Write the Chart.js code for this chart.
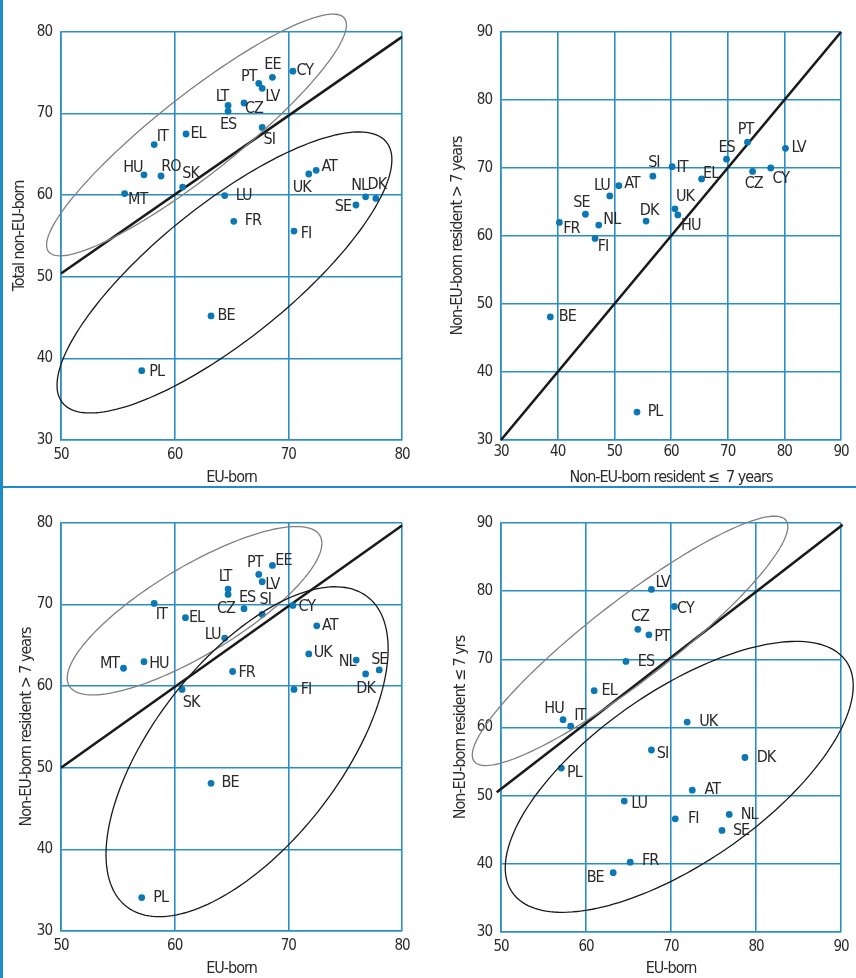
<!DOCTYPE html>
<html>
<head>
<meta charset="utf-8">
<script src="https://cdn.jsdelivr.net/npm/chart.js@4.4.1/dist/chart.umd.min.js"></script>
<style>
  html, body { margin: 0; padding: 0; background: #fff; }
  #wrap { position: relative; width: 856px; height: 978px; overflow: hidden; }
  #wrap canvas { position: absolute; }
  .bar { position: absolute; left: 0; top: 0; width: 3px; height: 978px; background: #1d8cc7; }
  .rule { position: absolute; left: 0; top: 486px; width: 856px; height: 2px; background: #1d8cc7; }
</style>
</head>
<body>
<div id="wrap">
  <canvas id="c1" width="428" height="487" style="left:0;top:0"></canvas>
  <canvas id="c2" width="428" height="487" style="left:428px;top:0"></canvas>
  <canvas id="c3" width="428" height="491" style="left:0;top:487px"></canvas>
  <canvas id="c4" width="428" height="491" style="left:428px;top:487px"></canvas>
  <div class="bar"></div>
  <div class="rule"></div>
</div>
<script>
// ---- panel 1: EU-born vs total non-EU-born
const codes1 = ['CY','EE','PT','LV','CZ','LT','ES','SI','EL','IT','HU','RO','SK','MT','LU','FR','FI','UK','AT','SE','NL','DK','BE','PL'];
const x1 = [70.4,68.6,67.4,67.7,66.1,64.7,64.7,67.7,61.0,58.2,57.3,58.8,60.7,55.6,64.4,65.2,70.5,71.8,72.45,75.95,76.8,77.7,63.2,57.1];
const y1 = [75.2,74.45,73.7,73.1,71.3,71.0,70.3,68.3,67.5,66.2,62.5,62.35,61.0,60.2,59.95,56.8,55.6,62.6,63.05,58.8,59.8,59.6,45.2,38.5];
const diag1 = [[50, 50.4], [80, 79.4]];

// ---- panel 2: non-EU-born <= 7 years vs > 7 years
const codes2 = ['PT','ES','LV','CY','CZ','EL','IT','SI','AT','LU','SE','NL','FR','FI','DK','UK','HU','BE','PL'];
const x2 = [73.5,69.8,80.2,77.6,74.4,65.4,60.2,56.8,50.8,49.2,44.9,47.25,40.3,46.6,55.6,60.7,61.2,38.7,54.0];
const y2 = [73.8,71.3,72.9,70.0,69.5,68.4,70.2,68.8,67.4,65.9,63.2,61.6,62.0,59.65,62.2,64.0,63.1,48.1,34.1];
const diag2 = [[30, 30], [90, 90]];

// ---- panel 3: EU-born vs non-EU-born > 7 years
const codes3 = ['EE','PT','LV','LT','ES','CZ','SI','CY','IT','EL','LU','AT','UK','NL','SE','DK','MT','HU','FR','FI','SK','BE','PL'];
const x3 = [68.6,67.4,67.7,64.7,64.7,66.1,67.7,70.4,58.2,60.95,64.4,72.5,71.8,75.97,78.0,76.8,55.5,57.3,65.1,70.5,60.65,63.2,57.1];
const y3 = [74.8,73.7,72.8,71.9,71.25,69.5,68.8,69.9,70.15,68.4,65.9,67.4,63.95,63.2,62.0,61.5,62.2,63.0,61.8,59.6,59.6,48.1,34.1];
const diag3 = [[50, 50], [80, 79.7]];

// ---- panel 4: EU-born vs non-EU-born <= 7 yrs
const codes4 = ['LV','CY','CZ','PT','ES','EL','HU','IT','UK','SI','DK','PL','AT','LU','FI','NL','SE','FR','BE'];
const x4 = [67.7,70.4,66.1,67.4,64.7,60.96,57.3,58.2,71.9,67.7,78.7,57.1,72.5,64.5,70.5,76.85,76.0,65.2,63.2];
const y4 = [80.25,77.75,74.4,73.6,69.7,65.4,61.15,60.2,60.8,56.7,55.6,54.05,50.8,49.2,46.6,47.25,44.9,40.25,38.7];
const diag4 = [[49.5, 50.5], [90.2, 89.75]];

// cluster ellipses: centre + two conjugate half-axes, all in data units
const ellipses1 = [
  { c: [61.92, 67.38], u: [13.19, 13.48], v: [0, -6.13], grey: true },
  { c: [64.38, 50.53], u: [14.73, 13.82], v: [0, -10.27], grey: false }
];
const ellipses3 = [
  { c: [61.75, 69.25], u: [11.2, 8.25], v: [0, -6.19], grey: true },
  { c: [66.37, 51.97], u: [12.41, 12.6], v: [0, -15.81], grey: false }
];
const ellipses4 = [
  { c: [65.18, 72.71], u: [18.56, 16.75], v: [0, -7.35], grey: true },
  { c: [70.97, 52.76], u: [20.47, 13.35], v: [0, -14.72], grey: false }
];

// label placement (pixel offset of label centre from its dot)
const labelPos1 = {CY:[12,0],EE:[0,-12],PT:[-10,-7],LV:[10,9],CZ:[10,6],LT:[-6,-9],ES:[0,14],SI:[7,12],EL:[12,0],IT:[8,-8],HU:[-11,-7],RO:[10,-9],SK:[8,-13],MT:[13,6],LU:[19,0],FR:[19,0],FI:[12,3],UK:[-7,14],AT:[13,-3],SE:[-13,2],NL:[-6,-11],DK:[1,-14],BE:[15,0],PL:[15,1]};
const labelPos2 = {PT:[-2,-12],ES:[0,-11],LV:[13,0],CY:[10,11],CZ:[1,12],EL:[9,-5],IT:[10,1],SI:[1,-13],AT:[13,-2],LU:[-8,-10],SE:[-4,-11],NL:[13,-5],FR:[12,6],FI:[8,8],DK:[3,-10],UK:[10,-12],HU:[13,11],BE:[17,0],PL:[18,0]};
const labelPos3 = {EE:[11,-5],PT:[-4,-12],LV:[10,3],LT:[-3,-12],ES:[19,3],CZ:[-18,0],SI:[3,-15],CY:[14,1],IT:[7,11],EL:[11,0],LU:[-12,-3],AT:[13,0],UK:[14,-1],NL:[-9,2],SE:[0,-10],DK:[0,15],MT:[-14,-4],HU:[15,2],FR:[14,1],FI:[12,0],SK:[9,13],BE:[19,0],PL:[19,0]};
const labelPos4 = {LV:[11,-7],CY:[11,2],CZ:[2,-12],PT:[13,2],ES:[20,0],EL:[15,0],HU:[-9,-11],IT:[9,-10],UK:[21,0],SI:[11,4],DK:[21,0],PL:[13,5],AT:[20,0],LU:[15,3],FI:[18,0],NL:[20,0],SE:[19,0],FR:[20,-1],BE:[-18,5]};

const GRID = '#2b8fc6';
const DOT = '#0b78b5';
const TEXT = '#2a2a2a';
const FONT = "'Liberation Sans Narrow', 'DejaVu Sans Condensed', 'Arial Narrow', sans-serif";
Chart.defaults.font.family = FONT;
Chart.defaults.color = TEXT;

// the original uses a condensed face; tighten the available one a little
const tightText = {
  id: 'tightText',
  beforeDraw(chart) {
    if ('letterSpacing' in chart.ctx) chart.ctx.letterSpacing = '-1px';
  }
};

const decorPlugin = {
  id: 'decor',
  afterDatasetsDraw(chart, args, opts) {
    const ctx = chart.ctx;
    const xs = chart.scales.x, ys = chart.scales.y;
    ctx.save();
    // ellipses
    (opts.ellipses || []).forEach(e => {
      const cx = xs.getPixelForValue(e.c[0]), cy = ys.getPixelForValue(e.c[1]);
      const ux = xs.getPixelForValue(e.c[0] + e.u[0]) - cx, uy = ys.getPixelForValue(e.c[1] + e.u[1]) - cy;
      const vx = xs.getPixelForValue(e.c[0] + e.v[0]) - cx, vy = ys.getPixelForValue(e.c[1] + e.v[1]) - cy;
      ctx.beginPath();
      for (let i = 0; i <= 180; i++) {
        const t = i / 180 * Math.PI * 2;
        const px = cx + ux * Math.cos(t) + vx * Math.sin(t);
        const py = cy + uy * Math.cos(t) + vy * Math.sin(t);
        if (i === 0) ctx.moveTo(px, py); else ctx.lineTo(px, py);
      }
      ctx.strokeStyle = e.grey ? '#808080' : '#1a1a1a';
      ctx.lineWidth = 1.3;
      ctx.stroke();
    });
    // country codes
    const meta = chart.getDatasetMeta(0);
    ctx.font = '16px ' + FONT;
    ctx.fillStyle = TEXT;
    ctx.textAlign = 'center';
    ctx.textBaseline = 'middle';
    meta.data.forEach((pt, i) => {
      const code = opts.codes[i];
      const off = opts.labelPos[code] || [12, 0];
      ctx.fillText(code, pt.x + off[0], pt.y + off[1]);
    });
    ctx.restore();
  }
};

function makePanel(id, p) {
  const points = p.xs.map((x, i) => ({ x: x, y: p.ys[i] }));
  const line = p.diag.map(d => ({ x: d[0], y: d[1] }));
  return new Chart(document.getElementById(id), {
    type: 'scatter',
    data: {
      datasets: [
        {
          data: points,
          pointRadius: 3.4,
          pointHoverRadius: 3.4,
          backgroundColor: DOT,
          borderWidth: 0,
          order: 0
        },
        {
          type: 'line',
          data: line,
          borderColor: '#1a1a1a',
          borderWidth: 2.6,
          pointRadius: 0,
          fill: false,
          clip: false,
          order: 1
        }
      ]
    },
    options: {
      responsive: false,
      animation: false,
      events: [],
      layout: { padding: { top: p.padTop, right: p.padRight, left: 0, bottom: 0 } },
      plugins: {
        legend: { display: false },
        tooltip: { enabled: false },
        decor: { ellipses: p.ellipses, codes: p.codes, labelPos: p.labelPos }
      },
      scales: {
        x: {
          type: 'linear',
          min: p.xMin, max: p.xMax,
          afterFit: s => { s.height = p.xH; },
          ticks: { stepSize: 10, padding: p.xTickPad, font: { size: 15 }, color: TEXT },
          grid: { color: GRID, lineWidth: 1.6, drawTicks: false },
          border: { color: GRID, width: 1.6 },
          title: { display: true, text: p.xTitle, font: { size: 16 }, color: TEXT, padding: { top: 0, bottom: 0 } }
        },
        y: {
          type: 'linear',
          min: p.yMin, max: p.yMax,
          afterFit: s => { s.width = p.yW; },
          ticks: { stepSize: 10, padding: 9, font: { size: 15 }, color: TEXT },
          grid: { color: GRID, lineWidth: 1.6, drawTicks: false },
          border: { color: GRID, width: 1.6 },
          title: { display: true, text: p.yTitle, font: { size: 16 }, color: TEXT, padding: { top: p.yTitlePad, bottom: 0 } }
        }
      }
    },
    plugins: [tightText, decorPlugin]
  });
}

makePanel('c1', {
  codes: codes1, xs: x1, ys: y1, diag: diag1, ellipses: ellipses1, labelPos: labelPos1,
  xMin: 50, xMax: 80, yMin: 30, yMax: 80,
  xTitle: 'EU-born', yTitle: 'Total non-EU-born',
  padTop: 32, padRight: 26, yW: 61, xH: 47, xTickPad: 6, yTitlePad: 10
});
makePanel('c2', {
  codes: codes2, xs: x2, ys: y2, diag: diag2, ellipses: [], labelPos: labelPos2,
  xMin: 30, xMax: 90, yMin: 30, yMax: 90,
  xTitle: 'Non-EU-born resident \u2264  7 years', yTitle: 'Non-EU-born resident > 7 years',
  padTop: 32, padRight: 15, yW: 73, xH: 47, xTickPad: 3, yTitlePad: 20
});
makePanel('c3', {
  codes: codes3, xs: x3, ys: y3, diag: diag3, ellipses: ellipses3, labelPos: labelPos3,
  xMin: 50, xMax: 80, yMin: 30, yMax: 80,
  xTitle: 'EU-born', yTitle: 'Non-EU-born resident > 7 years',
  padTop: 36, padRight: 26, yW: 61, xH: 47, xTickPad: 6, yTitlePad: 17
});
makePanel('c4', {
  codes: codes4, xs: x4, ys: y4, diag: diag4, ellipses: ellipses4, labelPos: labelPos4,
  xMin: 50, xMax: 90, yMin: 30, yMax: 90,
  xTitle: 'EU-born', yTitle: 'Non-EU-born resident \u2264 7 yrs',
  padTop: 36, padRight: 15, yW: 73, xH: 46, xTickPad: 6, yTitlePad: 23
});
</script>
</body>
</html>
